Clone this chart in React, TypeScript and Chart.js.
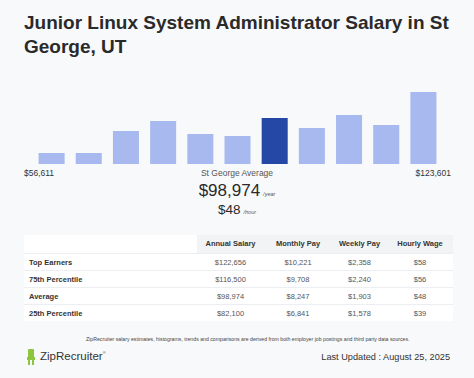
import React, { useEffect, useRef } from "react";
import { Chart, registerables } from "chart.js";

Chart.register(...registerables);

const TITLE = "Junior Linux System Administrator Salary in St George, UT";
const BIN_LABELS = ["b1", "b2", "b3", "b4", "b5", "b6", "b7", "b8", "b9", "b10", "b11"];
const BIN_COUNTS = [11, 11, 33, 43, 30, 28, 46, 36, 49, 39, 72];
const HIGHLIGHT_INDEX = 6;
const MIN_LABEL = "$56,611";
const MAX_LABEL = "$123,601";
const AVG_LABEL = "St George Average";
const AVG_YEAR = "$98,974";
const AVG_HOUR = "$48";

const TABLE_HEADERS = ["Annual Salary", "Monthly Pay", "Weekly Pay", "Hourly Wage"];
const ROW_LABELS = ["Top Earners", "75th Percentile", "Average", "25th Percentile"];
const ANNUAL = ["$122,656", "$116,500", "$98,974", "$82,100"];
const MONTHLY = ["$10,221", "$9,708", "$8,247", "$6,841"];
const WEEKLY = ["$2,358", "$2,240", "$1,903", "$1,578"];
const HOURLY = ["$58", "$56", "$48", "$39"];

const FONT = '"Liberation Sans", Arial, Helvetica, sans-serif';
const LIGHT = "#a7b9ef";
const DARK = "#2547a6";

function BarChart() {
  const ref = useRef<HTMLCanvasElement | null>(null);
  useEffect(() => {
    if (!ref.current) return;
    const chart = new Chart(ref.current, {
      type: "bar",
      data: {
        labels: BIN_LABELS,
        datasets: [
          {
            data: BIN_COUNTS,
            backgroundColor: BIN_COUNTS.map((_, i) => (i === HIGHLIGHT_INDEX ? DARK : LIGHT)),
            borderWidth: 0,
            categoryPercentage: 1,
            barPercentage: 0.7,
          },
        ],
      },
      options: {
        animation: false,
        responsive: true,
        maintainAspectRatio: false,
        layout: { padding: 0 },
        plugins: { legend: { display: false }, tooltip: { enabled: false } },
        scales: {
          x: { display: false, offset: true },
          y: { display: false, min: 0, max: 72 },
        },
      },
    });
    return () => chart.destroy();
  }, []);
  return (
    <div style={{ position: "absolute", left: 33, top: 92, width: 409, height: 72 }}>
      <canvas ref={ref} />
    </div>
  );
}

export default function App() {
  useEffect(() => {
    document.body.style.margin = "0";
  }, []);
  const cols = [ANNUAL, MONTHLY, WEEKLY, HOURLY];
  const colW = [67, 68, 55, 66];
  const cell: React.CSSProperties = { padding: 0, textAlign: "center" };
  return (
    <div
      style={{
        position: "absolute",
        left: 0,
        top: 0,
        width: 474,
        height: 378,
        background: "#f8f9fb",
        fontFamily: FONT,
        color: "#2b2b2b",
        overflow: "hidden",
      }}
    >
      <div
        style={{
          position: "absolute",
          left: 24,
          top: 11,
          width: 440,
          fontSize: 19,
          lineHeight: "24px",
          fontWeight: 700,
          color: "#2a2a2a",
        }}
      >
        {TITLE}
      </div>
      <BarChart />
      <div style={{ position: "absolute", left: 24, top: 168, fontSize: 8.5, color: "#333" }}>{MIN_LABEL}</div>
      <div style={{ position: "absolute", left: 137, width: 200, top: 168, fontSize: 8.5, color: "#555", textAlign: "center" }}>
        {AVG_LABEL}
      </div>
      <div style={{ position: "absolute", right: 23, top: 168, fontSize: 8.5, color: "#333" }}>{MAX_LABEL}</div>
      <div style={{ position: "absolute", left: 0, width: 474, top: 181, textAlign: "center", color: "#2a2a2a" }}>
        <span style={{ fontSize: 17 }}>{AVG_YEAR}</span>
        <span style={{ fontSize: 5.5, fontStyle: "italic", color: "#555", marginLeft: 3 }}>/year</span>
      </div>
      <div style={{ position: "absolute", left: 0, width: 474, top: 200, textAlign: "center", color: "#2a2a2a" }}>
        <span style={{ fontSize: 13.5 }}>{AVG_HOUR}</span>
        <span style={{ fontSize: 5.5, fontStyle: "italic", color: "#555", marginLeft: 3 }}>/hour</span>
      </div>
      <table
        style={{
          position: "absolute",
          left: 24,
          top: 235,
          width: 427,
          borderCollapse: "collapse",
          fontSize: 7.5,
          background: "#ffffff",
          tableLayout: "fixed",
        }}
      >
        <thead>
          <tr style={{ height: 18 }}>
            <th style={{ width: 171, background: "#ffffff" }}></th>
            {TABLE_HEADERS.map((h, i) => (
              <th key={h} style={{ ...cell, width: colW[i], background: "#f2f3f5", fontWeight: 700, color: "#333", fontSize: 7.5 }}>
                {h}
              </th>
            ))}
          </tr>
        </thead>
        <tbody>
          {ROW_LABELS.map((r, ri) => (
            <tr key={r} style={{ height: 17, borderTop: "1px solid #eceef1" }}>
              <td style={{ padding: "1px 0 0 5px", fontWeight: 700, color: "#333", textAlign: "left" }}>{r}</td>
              {cols.map((c, ci) => (
                <td key={ci} style={{ ...cell, paddingTop: 1, color: "#555" }}>
                  {c[ri]}
                </td>
              ))}
            </tr>
          ))}
        </tbody>
      </table>
      <div style={{ position: "absolute", left: 86, top: 336, whiteSpace: "nowrap", fontSize: 5.2, color: "#444" }}>
        ZipRecruiter salary estimates, histograms, trends and comparisons are derived from both employer job postings and third party data sources.
      </div>
      <div style={{ position: "absolute", left: 28, top: 349, width: 6, height: 9, background: "#8cc63f", borderRadius: 1 }} />
      <div style={{ position: "absolute", left: 27, top: 357, width: 8, height: 3, background: "#8cc63f" }} />
      <div style={{ position: "absolute", left: 28, top: 360, width: 2, height: 5, background: "#8cc63f" }} />
      <div style={{ position: "absolute", left: 32, top: 360, width: 2, height: 5, background: "#8cc63f" }} />
      <div style={{ position: "absolute", left: 40, top: 350, fontSize: 11.5, fontWeight: 400, color: "#333", letterSpacing: 0 }}>
        ZipRecruiter<span style={{ fontSize: 4, verticalAlign: "top" }}>®</span>
      </div>
      <div style={{ position: "absolute", right: 24, top: 352, fontSize: 9.2, color: "#333" }}>
        Last Updated : August 25, 2025
      </div>
    </div>
  );
}
